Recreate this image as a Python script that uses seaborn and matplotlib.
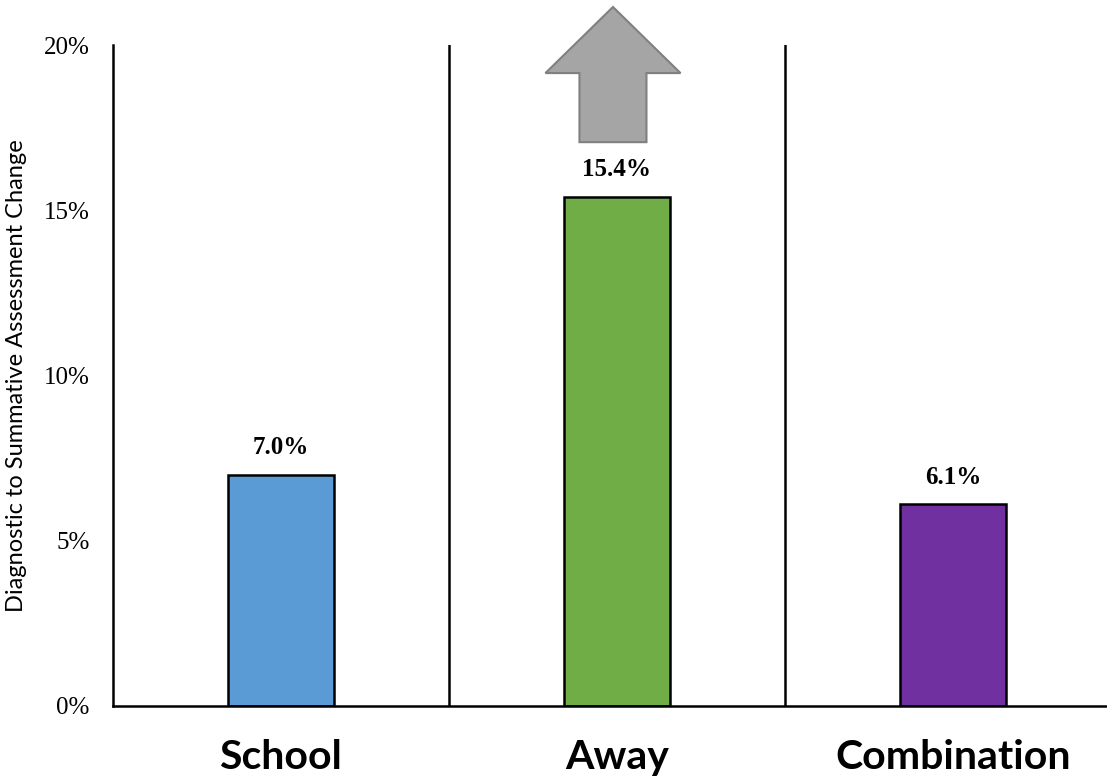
import numpy as np
import pandas as pd
import matplotlib as mpl
import matplotlib.pyplot as plt
import seaborn as sns
from matplotlib.ticker import PercentFormatter
from matplotlib.patches import Polygon

# data
categories = ['School', 'Away', 'Combination']
changes = [0.070, 0.154, 0.061]
bar_colors = ['#5B9BD5', '#70AD47', '#7030A0']
y_ticks = [0.0, 0.05, 0.10, 0.15, 0.20]

df = pd.DataFrame({'category': categories, 'change': changes})

sns.set_style('white')
plt.rcParams['font.family'] = ['Liberation Serif', 'Tinos', 'Nimbus Roman',
                               'STIXGeneral', 'DejaVu Serif']
plt.rcParams['text.color'] = 'black'
plt.rcParams['axes.labelcolor'] = 'black'
plt.rcParams['xtick.color'] = 'black'
plt.rcParams['ytick.color'] = 'black'
sans = ['Lato', 'Open Sans', 'DejaVu Sans']

fig = plt.figure(figsize=(11.07, 7.78), dpi=100)
# axes runs a bit past the right edge of the figure, as in the original
ax = fig.add_axes([113 / 1107, 72 / 778, 1008 / 1107, 661 / 778])

sns.barplot(data=df, x='category', y='change', hue='category',
            palette=bar_colors, saturation=1, width=0.315,
            edgecolor='black', linewidth=1.8, legend=False, ax=ax)

# value labels
for i, v in enumerate(changes):
    ax.text(i, v + 0.0048, f'{v * 100:.1f}%', ha='center', va='bottom',
            fontsize=18, fontweight='bold')

# dividers between groups
for xd in [0.5, 1.5]:
    ax.axvline(xd, color='black', lw=1.8)

ax.set_xlim(-0.5, 2.5)
ax.set_ylim(0, 0.20)
ax.set_yticks(y_ticks)
ax.yaxis.set_major_formatter(PercentFormatter(1.0, decimals=0))
ax.tick_params(axis='y', length=0, pad=17, labelsize=18)
ax.tick_params(axis='x', length=0, pad=24)
for lab in ax.get_xticklabels():
    lab.set_fontfamily(sans)
    lab.set_fontweight('bold')
    lab.set_fontsize(29.5)

ax.set_xlabel('')
ax.set_ylabel('Diagnostic to Summative Assessment Change',
              fontfamily=sans, fontsize=17)
ax.yaxis.set_label_coords(-0.085, 0.5)

for side in ['top', 'right']:
    ax.spines[side].set_visible(False)
for side in ['left', 'bottom']:
    ax.spines[side].set_color('black')
    ax.spines[side].set_linewidth(1.8)

# gray up arrow above the Away bar
cx = 0.988
head_w, stem_w = 0.201, 0.0997
tip, base, bottom = 0.2115, 0.1915, 0.1706
arrow = Polygon([(cx, tip), (cx + head_w, base), (cx + stem_w, base),
                 (cx + stem_w, bottom), (cx - stem_w, bottom),
                 (cx - stem_w, base), (cx - head_w, base)],
                closed=True, facecolor='#A5A5A5', edgecolor='#808080',
                lw=1.5, clip_on=False)
ax.add_patch(arrow)

plt.savefig('out.png', dpi=100)
